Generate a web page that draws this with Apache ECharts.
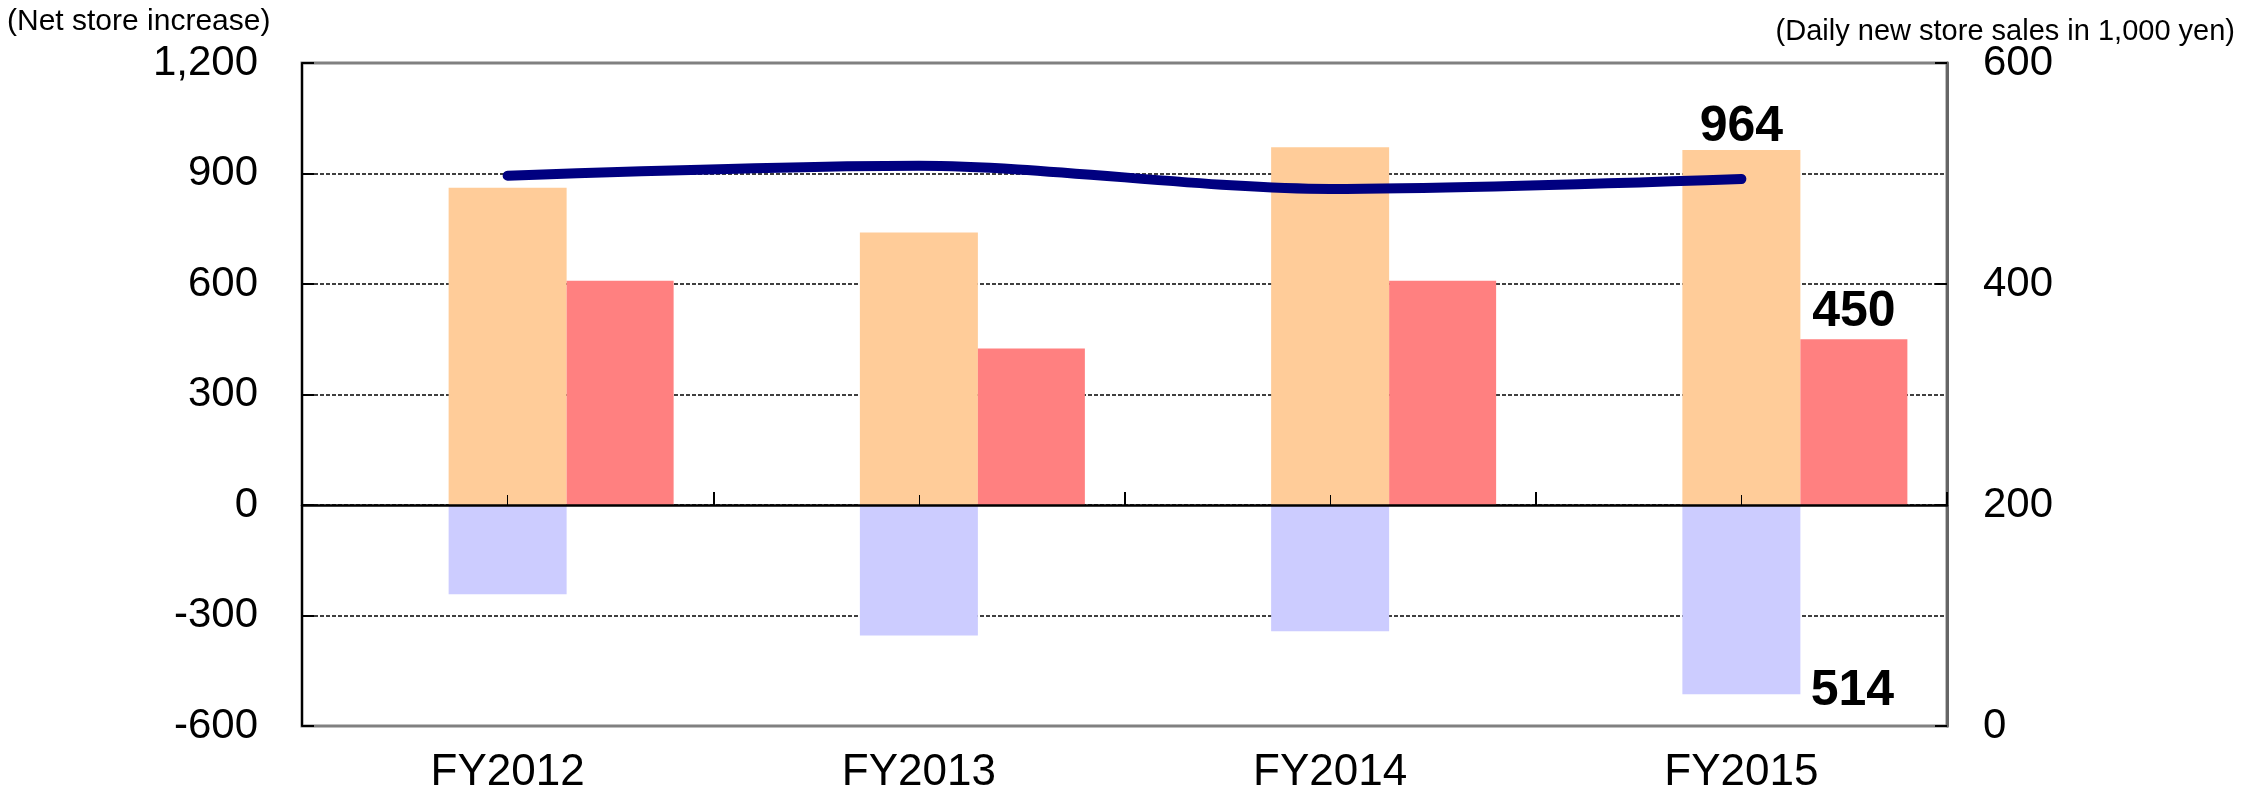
<!DOCTYPE html>
<html>
<head>
<meta charset="utf-8">
<script src="https://cdn.jsdelivr.net/npm/echarts@6/dist/echarts.min.js"></script>
<style>
  html, body { margin: 0; padding: 0; background: #fff; }
  #chart { width: 2241px; height: 797px; }
</style>
</head>
<body>
<div id="chart"></div>
<script>
const categories = ["FY2012", "FY2013", "FY2014", "FY2015"];
const storeOpenings = [861, 740, 971, 964];
const storeClosures = [-242, -354, -343, -514];
const netIncrease = [609, 425, 609, 450];
const dailySales = [498, 507, 486, 495];
const spacer = [null, null, null, null];

const FONT = "'Liberation Sans', Arial, sans-serif";
const last = categories.length - 1;

const bigLabel = {
  show: true,
  fontSize: 50,
  fontWeight: "bold",
  color: "#000",
  fontFamily: FONT,
};

// only the last year gets a value label
function withLastLabel(arr, label) {
  return arr.map((v, i) => (i === last ? { value: v, label: label } : v));
}

const chart = echarts.init(document.getElementById("chart"));

const option = {
  animation: false,
  backgroundColor: "#fff",
  title: [
    {
      text: "(Net store increase)",
      left: 7,
      top: 7,
      padding: 0,
      textStyle: { fontSize: 30, fontWeight: "normal", color: "#000", fontFamily: FONT },
    },
    {
      text: "(Daily new store sales in 1,000 yen)",
      right: 6,
      top: 17,
      padding: 0,
      textStyle: { fontSize: 29, fontWeight: "normal", color: "#000", fontFamily: FONT },
    },
  ],
  grid: {
    left: 302,
    right: 294,
    top: 63,
    bottom: 71,
    show: true,
    borderColor: "#808080",
    borderWidth: 3,
    outerBoundsMode: "none",
  },
  xAxis: [
    {
      type: "category",
      data: categories,
      position: "bottom",
      axisLine: { show: false, onZero: false },
      axisTick: { show: false },
      axisLabel: { fontSize: 44, color: "#000", margin: 25, fontFamily: FONT },
    },
    {
      type: "category",
      data: categories,
      position: "bottom",
      z: 5,
      axisLine: {
        show: true,
        onZero: true,
        onZeroAxisIndex: 0,
        lineStyle: { color: "#000", width: 2.5 },
      },
      axisTick: { show: true, inside: true, length: 13, lineStyle: { color: "#000", width: 2 } },
      axisLabel: { show: false },
    },
    {
      type: "category",
      data: categories,
      position: "bottom",
      z: 5,
      axisLine: { show: false, onZero: true, onZeroAxisIndex: 0 },
      axisTick: {
        show: true,
        inside: true,
        alignWithLabel: true,
        length: 10,
        lineStyle: { color: "#000", width: 1 },
      },
      axisLabel: { show: false },
    },
  ],
  yAxis: [
    {
      type: "value",
      min: -600,
      max: 1200,
      interval: 300,
      position: "left",
      axisLine: { show: true, onZero: false, lineStyle: { color: "#000", width: 2 } },
      axisTick: { show: true, inside: true, length: 12, lineStyle: { color: "#000", width: 2 } },
      axisLabel: {
        fontSize: 42,
        color: "#000",
        margin: 44,
        fontFamily: FONT,
        formatter: (v) => v.toLocaleString("en-US"),
      },
      splitLine: {
        show: true,
        showMinLine: false,
        showMaxLine: false,
        lineStyle: { color: "#000", width: 1.5, type: [4, 2] },
      },
    },
    {
      type: "value",
      min: 0,
      max: 600,
      interval: 200,
      position: "right",
      axisLine: { show: true, onZero: false, lineStyle: { color: "#666", width: 3 } },
      axisTick: { show: true, inside: true, length: 12, lineStyle: { color: "#000", width: 2 } },
      axisLabel: { fontSize: 42, color: "#000", margin: 36, fontFamily: FONT },
      splitLine: { show: false },
    },
  ],
  series: [
    {
      // empty slot on the left so the opening/closing bar sits on the category centre
      name: "spacer",
      type: "bar",
      stack: "spacer",
      barWidth: 107,
      barGap: "0%",
      data: spacer,
    },
    {
      name: "Openings",
      type: "bar",
      stack: "store",
      barWidth: 118,
      barGap: "0%",
      itemStyle: { color: "#FFCC99" },
      label: { show: false },
      data: withLastLabel(storeOpenings, Object.assign({ position: "top", distance: -2 }, bigLabel)),
    },
    {
      name: "Closures",
      type: "bar",
      stack: "store",
      barWidth: 118,
      barGap: "0%",
      itemStyle: { color: "#CCCCFF" },
      label: { show: false },
      data: withLastLabel(
        storeClosures,
        Object.assign(
          { position: "insideBottom", offset: [111, 27], formatter: (p) => Math.abs(p.value) },
          bigLabel
        )
      ),
    },
    {
      name: "Net increase",
      type: "bar",
      stack: "net",
      barWidth: 107,
      barGap: "0%",
      itemStyle: { color: "#FF8080" },
      label: { show: false },
      data: withLastLabel(netIncrease, Object.assign({ position: "top", distance: 2 }, bigLabel)),
    },
    {
      name: "Daily new store sales",
      type: "line",
      yAxisIndex: 1,
      smooth: 0.3,
      symbol: "none",
      z: 4,
      lineStyle: { color: "#000080", width: 10, cap: "round" },
      data: dailySales,
    },
  ],
};

chart.setOption(option);
</script>
</body>
</html>
